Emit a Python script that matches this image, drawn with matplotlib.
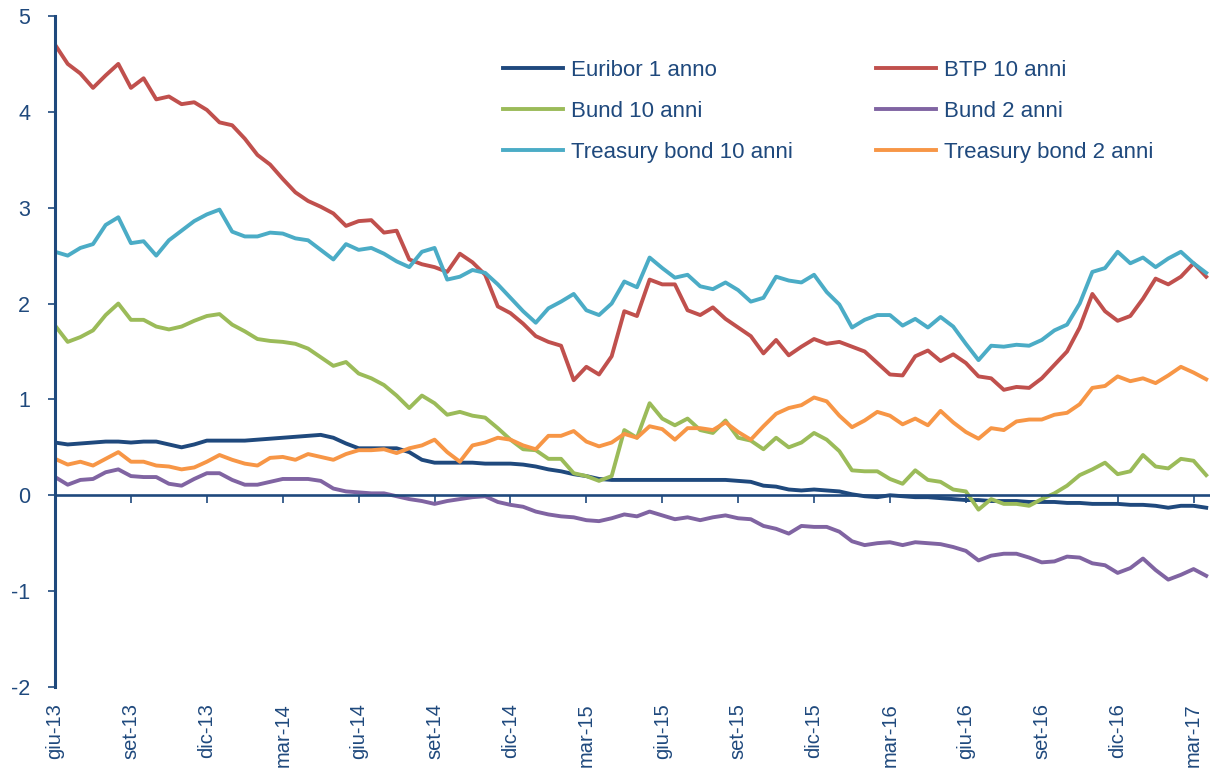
import matplotlib
matplotlib.use("Agg")
import matplotlib.pyplot as plt
import numpy as np

plt.rcParams['font.family'] = ['Liberation Sans', 'DejaVu Sans']
plt.rcParams['axes.unicode_minus'] = False

# -----------------------
# Data (months from giu-13, half-month steps)
# -----------------------
months = np.arange(92) * 0.5

euribor_1y = [0.55, 0.53, 0.54, 0.55, 0.56, 0.56, 0.55, 0.56, 0.56, 0.53,
              0.50, 0.53, 0.57, 0.57, 0.57, 0.57, 0.58, 0.59, 0.60, 0.61,
              0.62, 0.63, 0.60, 0.54, 0.49, 0.49, 0.49, 0.49, 0.45, 0.37,
              0.34, 0.34, 0.34, 0.34, 0.33, 0.33, 0.33, 0.32, 0.30, 0.27,
              0.25, 0.22, 0.20, 0.17, 0.16, 0.16, 0.16, 0.16, 0.16, 0.16,
              0.16, 0.16, 0.16, 0.16, 0.15, 0.14, 0.10, 0.09, 0.06, 0.05,
              0.06, 0.05, 0.04, 0.01, -0.01, -0.02, 0.00, -0.01, -0.02, -0.02,
              -0.03, -0.04, -0.05, -0.05, -0.06, -0.06, -0.06, -0.07, -0.07, -0.07,
              -0.08, -0.08, -0.09, -0.09, -0.09, -0.10, -0.10, -0.11, -0.13, -0.11,
              -0.11, -0.13]

btp_10y = [4.70, 4.50, 4.40, 4.25, 4.38, 4.50, 4.25, 4.35, 4.13, 4.16,
           4.08, 4.10, 4.02, 3.89, 3.86, 3.72, 3.55, 3.45, 3.30, 3.16,
           3.07, 3.01, 2.94, 2.81, 2.86, 2.87, 2.74, 2.76, 2.46, 2.41,
           2.38, 2.33, 2.52, 2.43, 2.30, 1.97, 1.90, 1.79, 1.66, 1.60,
           1.56, 1.20, 1.34, 1.26, 1.45, 1.92, 1.87, 2.25, 2.20, 2.20,
           1.93, 1.88, 1.96, 1.84, 1.75, 1.66, 1.48, 1.62, 1.46, 1.55,
           1.63, 1.58, 1.60, 1.55, 1.50, 1.38, 1.26, 1.25, 1.45, 1.51,
           1.40, 1.47, 1.38, 1.24, 1.22, 1.10, 1.13, 1.12, 1.22, 1.36,
           1.50, 1.75, 2.10, 1.92, 1.82, 1.87, 2.05, 2.26, 2.20, 2.28,
           2.42, 2.28]

bund_10y = [1.77, 1.60, 1.65, 1.72, 1.88, 2.00, 1.83, 1.83, 1.76, 1.73,
            1.76, 1.82, 1.87, 1.89, 1.78, 1.71, 1.63, 1.61, 1.60, 1.58,
            1.53, 1.44, 1.35, 1.39, 1.27, 1.22, 1.15, 1.04, 0.91, 1.04,
            0.96, 0.84, 0.87, 0.83, 0.81, 0.70, 0.58, 0.48, 0.47, 0.38,
            0.38, 0.23, 0.20, 0.15, 0.20, 0.68, 0.60, 0.96, 0.80, 0.73,
            0.80, 0.68, 0.65, 0.78, 0.60, 0.57, 0.48, 0.60, 0.50, 0.55,
            0.65, 0.58, 0.46, 0.26, 0.25, 0.25, 0.17, 0.12, 0.26, 0.16,
            0.14, 0.06, 0.04, -0.15, -0.04, -0.09, -0.09, -0.11, -0.04, 0.02,
            0.10, 0.21, 0.27, 0.34, 0.22, 0.25, 0.42, 0.30, 0.28, 0.38,
            0.36, 0.21]

bund_2y = [0.19, 0.11, 0.16, 0.17, 0.24, 0.27, 0.20, 0.19, 0.19, 0.12,
           0.10, 0.17, 0.23, 0.23, 0.16, 0.11, 0.11, 0.14, 0.17, 0.17,
           0.17, 0.15, 0.07, 0.04, 0.03, 0.02, 0.02, -0.01, -0.04, -0.06,
           -0.09, -0.06, -0.04, -0.02, -0.01, -0.07, -0.10, -0.12, -0.17, -0.20,
           -0.22, -0.23, -0.26, -0.27, -0.24, -0.20, -0.22, -0.17, -0.21, -0.25,
           -0.23, -0.26, -0.23, -0.21, -0.24, -0.25, -0.32, -0.35, -0.40, -0.32,
           -0.33, -0.33, -0.38, -0.48, -0.52, -0.50, -0.49, -0.52, -0.49, -0.50,
           -0.51, -0.54, -0.58, -0.68, -0.63, -0.61, -0.61, -0.65, -0.70, -0.69,
           -0.64, -0.65, -0.71, -0.73, -0.81, -0.76, -0.66, -0.78, -0.88, -0.83,
           -0.77, -0.84]

treasury_10y = [2.54, 2.50, 2.58, 2.62, 2.82, 2.90, 2.63, 2.65, 2.50, 2.66,
                2.76, 2.86, 2.93, 2.98, 2.75, 2.70, 2.70, 2.74, 2.73, 2.68,
                2.66, 2.56, 2.46, 2.62, 2.56, 2.58, 2.52, 2.44, 2.38, 2.54,
                2.58, 2.25, 2.28, 2.35, 2.32, 2.20, 2.06, 1.92, 1.80, 1.95,
                2.02, 2.10, 1.93, 1.88, 2.00, 2.23, 2.17, 2.48, 2.37, 2.27,
                2.30, 2.18, 2.15, 2.22, 2.14, 2.02, 2.06, 2.28, 2.24, 2.22,
                2.30, 2.12, 1.99, 1.75, 1.83, 1.88, 1.88, 1.77, 1.84, 1.75,
                1.86, 1.76, 1.58, 1.41, 1.56, 1.55, 1.57, 1.56, 1.62, 1.72,
                1.78, 2.00, 2.33, 2.37, 2.54, 2.42, 2.48, 2.38, 2.47, 2.54,
                2.42, 2.32]

treasury_2y = [0.38, 0.32, 0.35, 0.31, 0.38, 0.45, 0.35, 0.35, 0.31, 0.30,
               0.27, 0.29, 0.35, 0.42, 0.37, 0.33, 0.31, 0.39, 0.40, 0.37,
               0.43, 0.40, 0.37, 0.43, 0.47, 0.47, 0.48, 0.44, 0.49, 0.52,
               0.58, 0.45, 0.35, 0.52, 0.55, 0.60, 0.58, 0.52, 0.48, 0.62,
               0.62, 0.67, 0.56, 0.51, 0.55, 0.64, 0.60, 0.72, 0.69, 0.58,
               0.70, 0.70, 0.68, 0.76, 0.66, 0.58, 0.72, 0.85, 0.91, 0.94,
               1.02, 0.98, 0.83, 0.71, 0.78, 0.87, 0.83, 0.74, 0.80, 0.73,
               0.88, 0.76, 0.66, 0.59, 0.70, 0.68, 0.77, 0.79, 0.79, 0.84,
               0.86, 0.95, 1.12, 1.14, 1.24, 1.19, 1.22, 1.17, 1.25, 1.34,
               1.28, 1.21]

tick_months = np.arange(0, 46, 3)
tick_labels = ['giu-13', 'set-13', 'dic-13', 'mar-14', 'giu-14', 'set-14',
               'dic-14', 'mar-15', 'giu-15', 'set-15', 'dic-15', 'mar-16',
               'giu-16', 'set-16', 'dic-16', 'mar-17']

# -----------------------
# Plot
# -----------------------
navy = '#1F497D'
fig = plt.figure(figsize=(12.1, 7.68), dpi=100)
ax = fig.add_axes([0.0455, 0.1055, 0.9545, 0.8737])

lw = 2.8
h_eur, = ax.plot(months, euribor_1y, color=navy, lw=lw, label='Euribor 1 anno')
h_btp, = ax.plot(months, btp_10y, color='#C0504D', lw=lw, label='BTP 10 anni')
h_b10, = ax.plot(months, bund_10y, color='#9BBB59', lw=lw, label='Bund 10 anni')
h_b2, = ax.plot(months, bund_2y, color='#8064A2', lw=lw, label='Bund 2 anni')
h_t10, = ax.plot(months, treasury_10y, color='#4BACC6', lw=lw, label='Treasury bond 10 anni')
h_t2, = ax.plot(months, treasury_2y, color='#F79646', lw=lw, label='Treasury bond 2 anni')

ax.set_xlim(0, 45.65)
ax.set_ylim(-2, 5)

ax.spines['top'].set_visible(False)
ax.spines['right'].set_visible(False)
ax.spines['bottom'].set_position(('data', 0))
ax.spines['bottom'].set_color(navy)
ax.spines['bottom'].set_linewidth(1.9)
ax.spines['left'].set_color(navy)
ax.spines['left'].set_linewidth(2.2)

ax.set_yticks(range(-2, 6))
ax.tick_params(axis='y', direction='out', length=5, width=1.2, color=navy,
               labelcolor=navy, labelsize=15.5, pad=13)
ax.set_xticks(tick_months)
ax.set_xticklabels(tick_labels, rotation=90, va='top', ha='center')
ax.tick_params(axis='x', direction='out', length=5.5, width=1.2, color=navy,
               labelcolor=navy, labelsize=14.5, pad=144)

handles = [h_eur, h_b10, h_t10, h_btp, h_b2, h_t2]
leg = fig.legend(handles, [h.get_label() for h in handles],
                 loc='upper left', bbox_to_anchor=(0.4157, 0.922),
                 ncol=2, frameon=False, fontsize=16,
                 handlelength=2.7, handletextpad=0.35,
                 columnspacing=3.75, labelspacing=0.9,
                 borderpad=0, borderaxespad=0)
for t in leg.get_texts():
    t.set_color(navy)

plt.savefig("out.png", dpi=100)
